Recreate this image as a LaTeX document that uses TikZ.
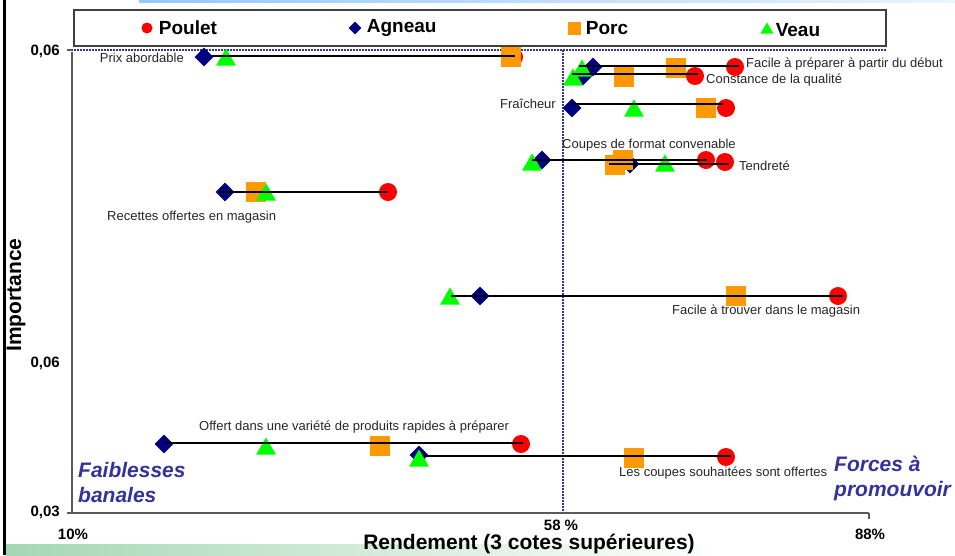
\documentclass[tikz,border=0pt]{standalone}
\usepackage{fontspec}
\setmainfont{Liberation Sans}
\usetikzlibrary{shapes.geometric,positioning}
\definecolor{poulred}{RGB}{255,0,0}
\definecolor{agnnavy}{RGB}{0,0,128}
\definecolor{porcorange}{RGB}{255,153,0}
\definecolor{veaugreen}{RGB}{0,255,0}
\definecolor{quadblue}{RGB}{51,51,153}
\definecolor{axisgray}{RGB}{90,90,90}
\definecolor{topblue}{RGB}{150,200,250}
\definecolor{bandgreen}{RGB}{165,215,180}
\begin{document}
\begin{tikzpicture}[%
    x=1pt, y=-1pt,
    poulet/.style={circle, fill=poulred, inner sep=0, minimum size=18pt},
    agneau/.style={diamond, fill=agnnavy, inner sep=0, minimum size=19pt},
    porc/.style={rectangle, fill=porcorange, inner sep=0, minimum size=20pt},
    veau/.style={regular polygon, regular polygon sides=3, fill=veaugreen,
      inner sep=0, minimum size=23pt, yshift=-2.9pt},
    bar/.style={line width=2pt, black},
    guide/.style={quadblue, line width=1.5pt, dash pattern=on 1.5pt off 1.5pt},
    axis/.style={axisgray, line width=1.3pt},
    lbl/.style={inner sep=0, text=black!85, font=\fontsize{13}{15}\selectfont},
    ticklbl/.style={inner sep=0, font=\bfseries\fontsize{15}{18}\selectfont},
    titlelbl/.style={inner sep=0, font=\bfseries\fontsize{21}{25}\selectfont},
    legtext/.style={inner sep=0, font=\bfseries\fontsize{19}{22}\selectfont},
    quad/.style={inner sep=0, align=left, text=quadblue,
      font=\bfseries\itshape\fontsize{21}{25}\selectfont}]
  \useasboundingbox (0,0) rectangle (955,555);
  % slide decoration
  \shade[left color=topblue, right color=topblue!20] (139,0) rectangle (955,2);
  \shade[left color=bandgreen, right color=white] (6,544) rectangle (720,555);
  \draw[line width=3pt] (4.2,0) -- (4.2,555);
  % legend
  \draw[darkgray, line width=1.3pt, fill=white] (74,10) rectangle (886,46);
  \node[poulet, minimum size=11pt] (lgp) at (147,28) {};
  \node[legtext, right=6pt of lgp] {Poulet};
  \node[agneau, minimum size=13pt] (lga) at (355,28) {};
  \node[legtext, right=5pt of lga] {Agneau};
  \node[porc, minimum size=13pt] (lgo) at (574,28) {};
  \node[legtext, right=5pt of lgo] {Porc};
  \node[veau, minimum size=15pt, yshift=1pt] (lgv) at (767,28) {};
  \node[legtext, right=4pt of lgv] {Veau};
  % axes and guides
  \coordinate (gtl) at (68,50);
  \coordinate (gtr) at (886,50);
  \coordinate (gvt) at (563,50);
  \coordinate (gvb) at (563,513);
  \draw[guide] (gtl) -- (gtr);
  \draw[guide] (gvt) -- (gvb);
  \coordinate (o) at (72,513);
  \draw[axis] (72,52) -- (o) -- (869,513);
  \draw[axis] (67,50) -- (72,50);
  \draw[axis] (67,513) -- (72,513);
  \draw[axis] (869,513) -- (869,519);
  \node[ticklbl, anchor=east] (y1) at (60,51) {0,06};
  \node[ticklbl, anchor=east] (y2) at (60,363) {0,06};
  \node[ticklbl, anchor=east] (y3) at (60,512) {0,03};
  \node[ticklbl] (x1) at (73,534) {10\%};
  \node[ticklbl] (x2) at (561,525) {58 \%};
  \node[ticklbl] (x3) at (870,534) {88\%};
  \node[titlelbl] (xt) at (529,544) {Rendement (3 cotes supérieures)};
  \node[titlelbl, rotate=90] (yt) at (16,295) {Importance};
  \node[quad, anchor=west] (qf) at (78,482) {Faiblesses\\banales};
  \node[quad, anchor=west] (qp) at (834,478) {Forces à\\promouvoir};
  % markers
  \foreach \n/\x/\y in {1/514/57, 2/735/67, 3/695/76, 4/726/108, 5/706/160,
      6/725/162, 7/388/192, 8/838/296, 9/521/444, 10/726/457}
    \node[poulet] (p\n) at (\x,\y) {};
  \foreach \n/\x/\y in {1/204/57, 2/593/67, 3/583/76, 4/572/108, 5/542/160,
      6/630/164, 7/225/192, 8/480/296, 9/164/444, 10/419/455}
    \node[agneau] (a\n) at (\x,\y) {};
  \foreach \n/\x/\y in {1/511/57, 2/676/68, 3/624/77, 4/706/108, 5/623/160,
      6/615/165, 7/256/192, 8/736/296, 9/380/446, 10/634/458}
    \node[porc] (o\n) at (\x,\y) {};
  \foreach \n/\x/\y in {1/226/57, 2/582/68, 3/573/77, 4/634/108, 5/532/162,
      6/665/163, 7/266/192, 8/450/296, 9/266/446, 10/419/458}
    \node[veau] (v\n) at (\x,\y) {};
  % ranges
  \foreach \n/\xa/\xb/\y in {1/212/515/56, 2/579/739/66, 3/572/698/74,
      4/572/723/104, 5/532/707/160, 6/609/729/164, 7/219/387/192,
      8/451/843/296, 9/164/523/443, 10/424/731/456} {
    \coordinate (l\n) at (\xa,\y);
    \coordinate (r\n) at (\xb,\y);
    \draw[bar] (l\n) -- (r\n);
  }
  % attribute labels
  \node[lbl, anchor=east] (t1) at (184,58) {Prix abordable};
  \node[lbl, anchor=west] (t2) at (746,64) {Facile à préparer à partir du début};
  \node[lbl, anchor=west] (t3) at (706,80) {Constance de la qualité};
  \node[lbl, anchor=east] (t4) at (556,104) {Fraîcheur};
  \node[lbl, anchor=west] (t5) at (562,145) {Coupes de format convenable};
  \node[lbl, anchor=west] (t6) at (739,166) {Tendreté};
  \node[lbl, anchor=west] (t7) at (107,217) {Recettes offertes en magasin};
  \node[lbl, anchor=west] (t8) at (672,311) {Facile à trouver dans le magasin};
  \node[lbl, anchor=west] (t9) at (199,427) {Offert dans une variété de produits rapides à préparer};
  \node[lbl, anchor=west] (t10) at (619,473) {Les coupes souhaitées sont offertes};
\end{tikzpicture}
\end{document}
